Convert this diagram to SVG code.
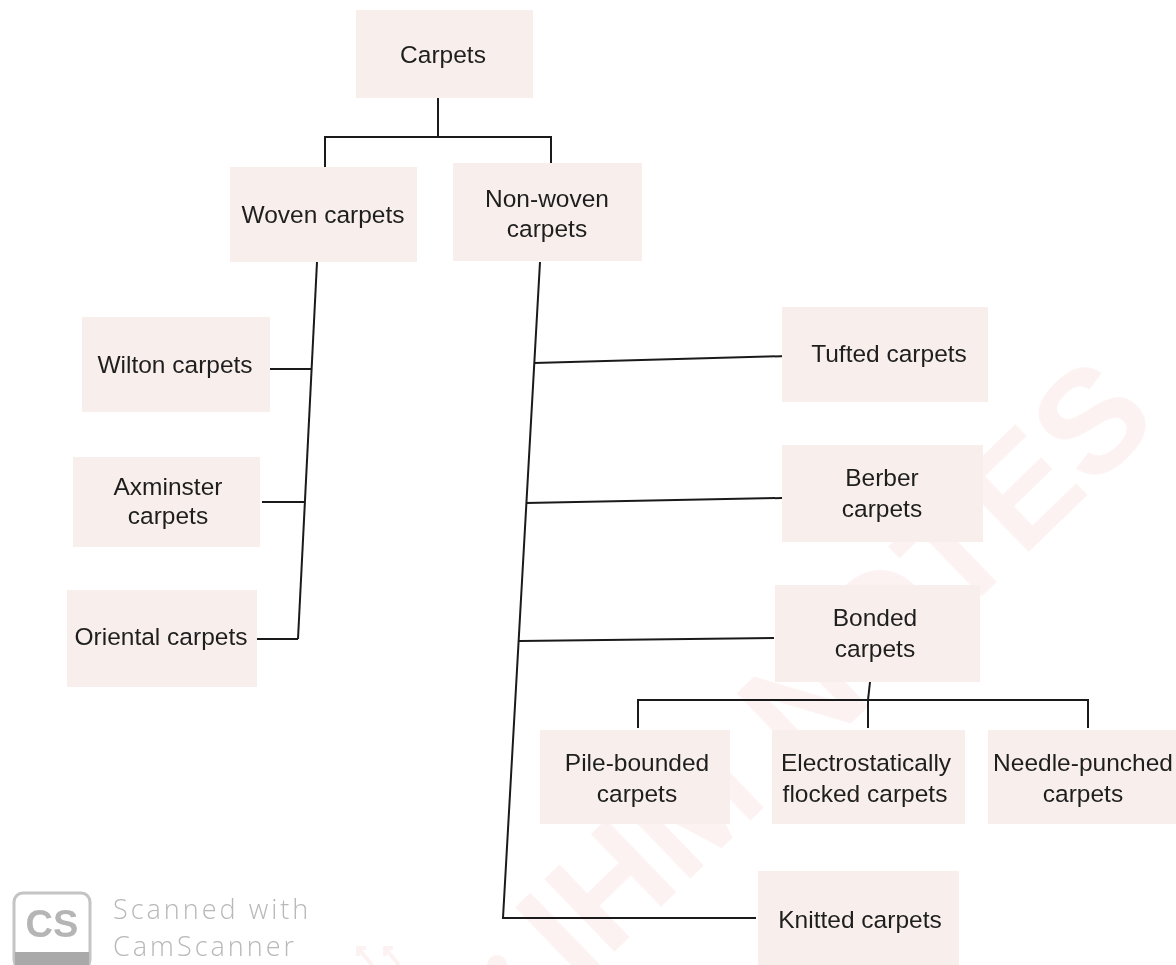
<svg xmlns="http://www.w3.org/2000/svg" width="1176" height="965" viewBox="0 0 1176 965">
<style>
.box{fill:#f8efec;}
.t{font-family:"Liberation Sans",Arial,sans-serif;font-size:24.5px;fill:#1e1e1e;text-anchor:middle;}
.c{fill:none;stroke:#1a1a1a;stroke-width:2;}
.cs{font-family:"Open Sans","DejaVu Sans",sans-serif;font-weight:300;fill:#b8b8b8;}
</style>
<rect width="1176" height="965" fill="#ffffff"/>
<g id="watermark" opacity="0.07">
<text x="870" y="705" transform="rotate(-44 870 705)" font-family="Liberation Sans,Arial,sans-serif" font-weight="bold" font-size="146" fill="#e0403c" text-anchor="middle">IHM NOTES</text>
<path d="M372,965 L358,948 M358,956 L358,948 L366,948 M399,965 L385,948 M385,956 L385,948 L393,948" stroke="#e0403c" stroke-width="4" fill="none"/>
<circle cx="497" cy="965" r="10" fill="#e0403c"/>
</g>
<g id="connectors">
<path class="c" d="M438,98 V137"/>
<path class="c" d="M325,168 V137 H551 V165"/>
<path class="c" d="M317,262 L298,639"/>
<path class="c" d="M267,369 H311"/>
<path class="c" d="M262,502 H305"/>
<path class="c" d="M257,639 H298"/>
<path class="c" d="M540,262 L503,918 H756"/>
<path class="c" d="M534,363 L788,356"/>
<path class="c" d="M526,503 L782,498"/>
<path class="c" d="M519,641 L774,638"/>
<path class="c" d="M870,682 L868,700"/>
<path class="c" d="M638,728 V700 H1088 V728"/>
<path class="c" d="M868,700 V728"/>
</g>
<g id="carpets"><rect class="box" x="356" y="10" width="177" height="88"/><text class="t" x="443" y="63">Carpets</text></g>
<g id="woven"><rect class="box" x="230" y="167" width="187" height="95"/><text class="t" x="323" y="223">Woven carpets</text></g>
<g id="nonwoven"><rect class="box" x="453" y="163" width="189" height="98"/><text class="t" x="547" y="207">Non-woven</text><text class="t" x="547" y="237">carpets</text></g>
<g id="wilton"><rect class="box" x="82" y="317" width="188" height="95"/><text class="t" x="175" y="373">Wilton carpets</text></g>
<g id="axminster"><rect class="box" x="73" y="457" width="187" height="90"/><text class="t" x="168" y="495">Axminster</text><text class="t" x="168" y="524">carpets</text></g>
<g id="oriental"><rect class="box" x="67" y="590" width="190" height="97"/><text class="t" x="161" y="645">Oriental carpets</text></g>
<g id="tufted"><rect class="box" x="782" y="307" width="206" height="95"/><text class="t" x="889" y="362">Tufted carpets</text></g>
<g id="berber"><rect class="box" x="782" y="445" width="201" height="97"/><text class="t" x="882" y="486">Berber</text><text class="t" x="882" y="517">carpets</text></g>
<g id="bonded"><rect class="box" x="775" y="585" width="205" height="97"/><text class="t" x="875" y="626">Bonded</text><text class="t" x="875" y="657">carpets</text></g>
<g id="pile"><rect class="box" x="540" y="730" width="190" height="94"/><text class="t" x="637" y="771">Pile-bounded</text><text class="t" x="637" y="802">carpets</text></g>
<g id="electro"><rect class="box" x="772" y="730" width="193" height="94"/><text class="t" x="866" y="771">Electrostatically</text><text class="t" x="865" y="802">flocked carpets</text></g>
<g id="needle"><rect class="box" x="988" y="730" width="188" height="94"/><text class="t" x="1083" y="771">Needle-punched</text><text class="t" x="1083" y="802">carpets</text></g>
<g id="knitted"><rect class="box" x="758" y="871" width="201" height="94"/><text class="t" x="860" y="928">Knitted carpets</text></g>
<g id="camscanner">
<rect x="14" y="893" width="76" height="76" rx="9" fill="#ffffff" stroke="#c4c4c4" stroke-width="3"/>
<rect x="15" y="952" width="74" height="13" fill="#a9a9a9"/>
<text x="52" y="937" font-family="Liberation Sans,Arial,sans-serif" font-weight="bold" font-size="38" fill="#b5b5b5" text-anchor="middle">CS</text>
<text class="cs" x="113" y="919" font-size="27" letter-spacing="3">Scanned with</text>
<text class="cs" x="113" y="956" font-size="27" letter-spacing="3">CamScanner</text>
</g>
</svg>
